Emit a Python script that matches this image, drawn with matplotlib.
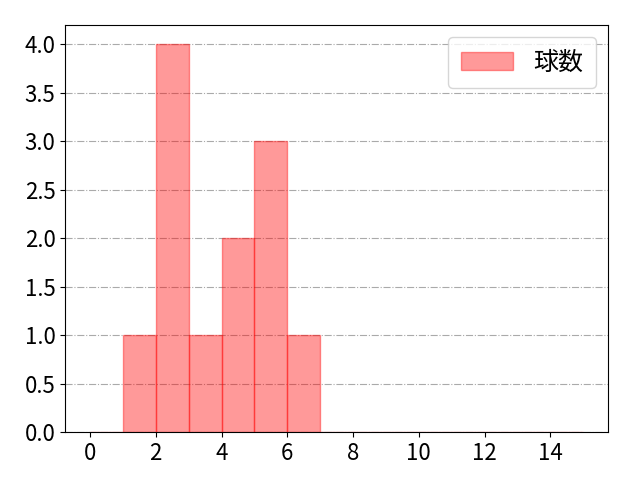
import numpy as np
import matplotlib
matplotlib.use("Agg")
import matplotlib.pyplot as plt

plt.rcParams['font.family'] = ['Noto Sans CJK JP', 'DejaVu Sans']
plt.rcParams['font.size'] = 16

# 球数ヒストグラム (各ビンの度数)
bin_edges = list(range(0, 16))
counts = [0, 1, 4, 1, 2, 3, 1, 0, 0, 0, 0, 0, 0, 0, 0]

fig, ax = plt.subplots(figsize=(6.4, 4.8), dpi=100)
ax.hist(bin_edges[:-1], bins=bin_edges, weights=counts,
        color="red", alpha=0.4, edgecolor="red", label="球数")
ax.grid(True, axis="y", linestyle="-.", color="#aaaaaa")
ax.set_axisbelow(True)
ax.set_xticks([0, 2, 4, 6, 8, 10, 12, 14])
ax.legend(loc="upper right", fontsize=18, handlelength=2.1, borderpad=0.5)

plt.subplots_adjust(left=0.102, right=0.95, top=0.948, bottom=0.1)
plt.savefig("out.png")
